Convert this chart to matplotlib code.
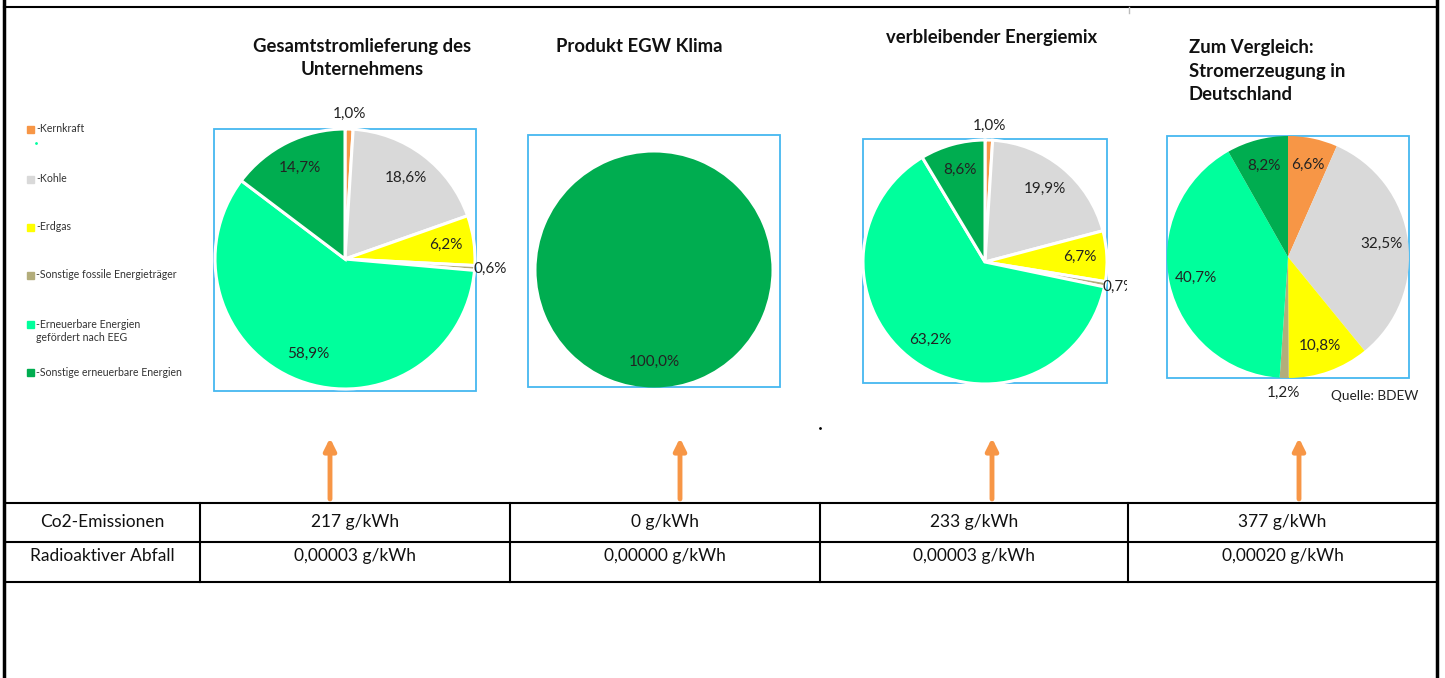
import numpy as np
import matplotlib.pyplot as plt
from matplotlib.patches import Rectangle
from matplotlib.transforms import Bbox, TransformedBbox

plt.rcParams['font.family'] = ['Lato', 'DejaVu Sans']

# data
categories = ["Kernkraft", "Kohle", "Erdgas", "Sonstige fossile Energieträger",
              "Erneuerbare Energien\ngefördert nach EEG", "Sonstige erneuerbare Energien"]
colors = ["#F79646", "#D9D9D9", "#FFFF00", "#B3AD7B", "#00FF9C", "#00AD50"]

gesamt = [1.0, 18.6, 6.2, 0.6, 58.9, 14.7]
klima = [0.0, 0.0, 0.0, 0.0, 0.0, 100.0]
rest = [1.0, 19.9, 6.7, 0.7, 63.2, 8.6]
deutschland = [6.6, 32.5, 10.8, 1.2, 40.7, 8.2]

row_labels = ["Co2-Emissionen", "Radioaktiver Abfall"]
co2 = ["217 g/kWh", "0 g/kWh", "233 g/kWh", "377 g/kWh"]
abfall = ["0,00003 g/kWh", "0,00000 g/kWh", "0,00003 g/kWh", "0,00020 g/kWh"]

W, H = 1445, 678
fig = plt.figure(figsize=(W / 100, H / 100), dpi=100)
bg = fig.add_axes([0, 0, 1, 1])
bg.set_xlim(0, W)
bg.set_ylim(H, 0)
bg.axis("off")


def fmt(v):
    return f"{v:.1f}".replace(".", ",") + "%"


def draw_pie(values, cx, cy, r, edge_lw, clip_x=None):
    ax = fig.add_axes([(cx - r) / W, 1 - (cy + r) / H, 2 * r / W, 2 * r / H])
    wedges, _ = ax.pie(values, colors=colors, startangle=90, counterclock=False,
                       wedgeprops=dict(edgecolor="white", linewidth=edge_lw))
    ax.set_xlim(-1, 1)
    ax.set_ylim(-1, 1)
    ax.axis("off")
    for w, v in zip(wedges, values):
        if v <= 0:
            continue
        ang = np.deg2rad((w.theta1 + w.theta2) / 2)
        d = 1.12 if v < 2 else 0.78
        t = ax.text(d * np.cos(ang), d * np.sin(ang), fmt(v), ha="center", va="center",
                    fontsize=11, color="#222222", clip_on=False)
        if clip_x is not None:
            t.set_clip_box(TransformedBbox(Bbox([[0, 0], [clip_x / W, 1]]), fig.transFigure))
            t.set_clip_on(True)
    return ax


# frame
bg.plot([4, 4], [0, H], color="black", lw=2.5)
bg.plot([1437, 1437], [0, H], color="black", lw=2.5)
bg.plot([4, 1437], [7, 7], color="black", lw=1.5)
bg.plot([1129, 1129], [7, 13], color="#BBBBBB", lw=1)

# legend
leg_y = [129, 179, 227, 275, 324, 372]
for lab, c, y in zip(categories, colors, leg_y):
    bg.add_patch(Rectangle((27, y - 3.5), 7, 7, color=c))
    bg.text(36, y - 5.5, "-" + lab, fontsize=7.6, va="top", ha="left",
            color="#333333", linespacing=1.3)
bg.plot([36], [143], marker=".", color="#00FFA0", markersize=2)
bg.plot([820], [428], marker=".", color="black", markersize=2)

# boxes around the pies
boxes = [(214, 129, 262, 262), (528, 135, 252, 252), (863, 139, 244, 244), (1167, 136, 242, 242)]
for x, y, w, h in boxes:
    bg.add_patch(Rectangle((x, y), w, h, fill=False, edgecolor="#45B8F0", lw=1.3))

draw_pie(gesamt, 345, 259, 130, 2.2)
draw_pie(klima, 654, 270, 117.5, 0)
draw_pie(rest, 985, 262, 122, 2.2, clip_x=1127)
draw_pie(deutschland, 1288, 257, 121, 0)

# titles
tkw = dict(fontsize=13.3, fontweight="bold", color="#111111")
bg.text(362, 58, "Gesamtstromlieferung des\nUnternehmens", ha="center", va="center",
        linespacing=1.48, **tkw)
bg.text(639, 46, "Produkt EGW Klima", ha="center", va="center", **tkw)
bg.text(992, 37, "verbleibender Energiemix", ha="center", va="center", **tkw)
bg.text(1189, 71, "Zum Vergleich:\nStromerzeugung in\nDeutschland", ha="left", va="center",
        linespacing=1.48, **tkw)
bg.text(1418, 396, "Quelle: BDEW", ha="right", va="center", fontsize=9.8, color="#222222")

# arrows
for x in [330, 680, 992, 1299]:
    bg.annotate("", xy=(x, 438), xytext=(x, 499),
                arrowprops=dict(arrowstyle="-|>,head_length=0.7,head_width=0.35",
                                color="#F79646", lw=3.5, shrinkA=0, shrinkB=0))

# table
col_x = [5, 200, 510, 820, 1128, 1437]
row_y = [503, 542, 582]
for y in row_y:
    bg.plot([col_x[0], col_x[-1]], [y, y], color="black", lw=1.5)
for x in col_x[1:-1]:
    bg.plot([x, x], [row_y[0], row_y[-1]], color="black", lw=1.5)

text_y = [522, 556]
for lab, ty in zip(row_labels, text_y):
    bg.text((col_x[0] + col_x[1]) / 2, ty, lab, ha="center", va="center", fontsize=12.5,
            color="#111111")
for i in range(4):
    cx = (col_x[i + 1] + col_x[i + 2]) / 2
    bg.text(cx, text_y[0], co2[i], ha="center", va="center", fontsize=12.5, color="#111111")
    bg.text(cx, text_y[1], abfall[i], ha="center", va="center", fontsize=12.5, color="#111111")

fig.savefig("out.png", dpi=100)
